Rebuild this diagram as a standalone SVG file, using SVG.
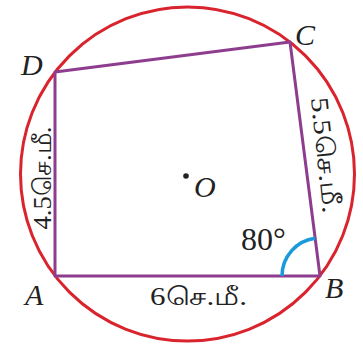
<svg xmlns="http://www.w3.org/2000/svg" width="363" height="345" viewBox="0 0 363 345">
<style>
.lbl{font-family:"Liberation Serif","Times New Roman",serif;font-style:italic;font-size:30px;fill:#222}
.len{font-family:"Liberation Serif","Noto Sans",serif;font-size:25px;fill:#222}
.edge{fill:none;stroke:#8e3d8e;stroke-width:3;stroke-linejoin:round}
</style>
<rect width="363" height="345" fill="#fff"/>
<g id="circle"><circle cx="187.5" cy="174" r="167" fill="none" stroke="#d9232d" stroke-width="3"/></g>
<g id="connectors">
<polygon class="edge" points="55,276 320,276 290,42 55,72"/>
<path d="M282,276 A38,38 0 0 1 315.2,238.3" fill="none" stroke="#1a9ad8" stroke-width="3.5"/>
</g>
<g id="O"><circle cx="186" cy="176" r="2.8" fill="#222"/><text class="lbl" x="194" y="197">O</text></g>
<g id="A"><text class="lbl" x="25" y="305">A</text></g>
<g id="B"><text class="lbl" x="325" y="298">B</text></g>
<g id="C"><text class="lbl" x="295" y="45">C</text></g>
<g id="D"><text class="lbl" x="21" y="75">D</text></g>
<g id="labels">
<text class="len" x="198.5" y="305" text-anchor="middle" textLength="97" lengthAdjust="spacingAndGlyphs">6செ.மீ.</text>
<text class="len" transform="translate(42,178) rotate(-90)" y="9" text-anchor="middle" textLength="103" lengthAdjust="spacingAndGlyphs">4.5செ.மீ.</text>
<text class="len" transform="translate(326,155) rotate(84)" y="9" text-anchor="middle" textLength="116" lengthAdjust="spacingAndGlyphs">5.5செ.மீ.</text>
<text x="241" y="250" font-family="Liberation Serif, Times New Roman, serif" font-size="32" fill="#222">80°</text>
</g>
</svg>
